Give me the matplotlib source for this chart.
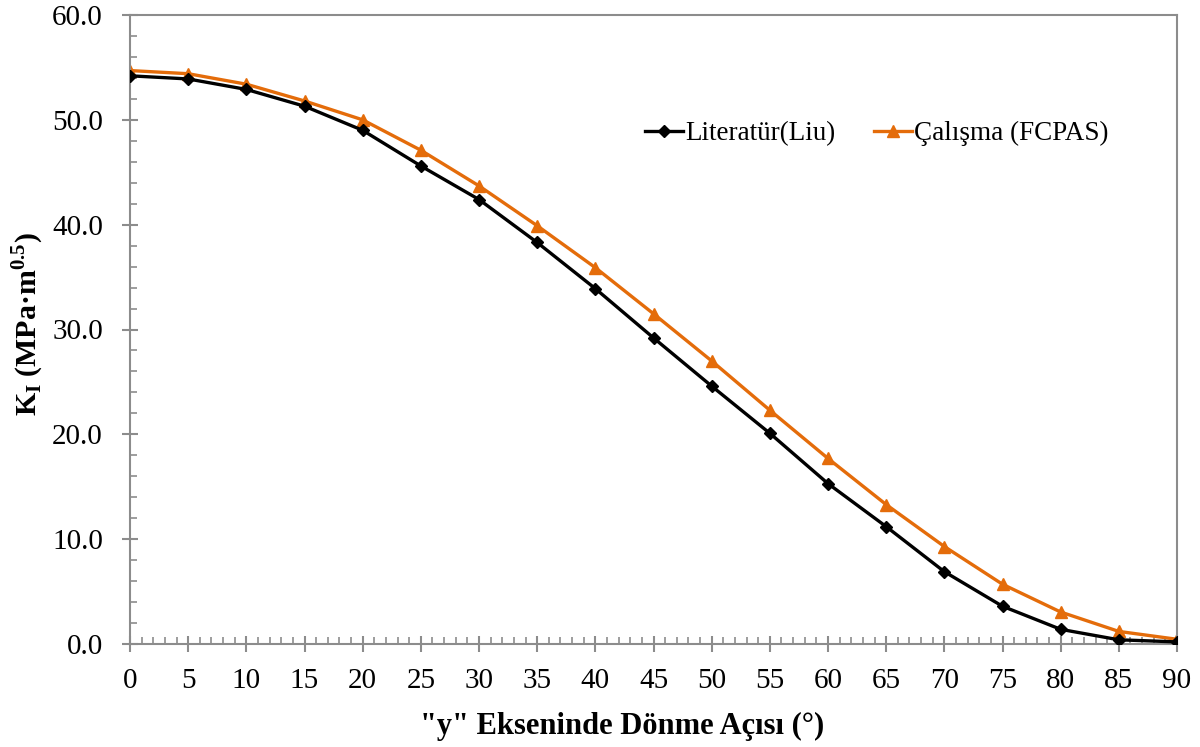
import matplotlib.pyplot as plt
from matplotlib.ticker import MultipleLocator, FormatStrFormatter

aci = [0, 5, 10, 15, 20, 25, 30, 35, 40, 45, 50, 55, 60, 65, 70, 75, 80, 85, 90]
liu = [54.2, 53.9, 52.9, 51.3, 49.0, 45.6, 42.4, 38.3, 33.9, 29.2, 24.6, 20.1,
       15.3, 11.2, 6.9, 3.6, 1.4, 0.4, 0.2]
fcpas = [54.7, 54.4, 53.4, 51.8, 50.0, 47.1, 43.7, 39.9, 35.9, 31.5, 27.0, 22.3,
         17.7, 13.3, 9.3, 5.7, 3.05, 1.2, 0.45]

plt.rcParams['font.family'] = ['Liberation Serif', 'DejaVu Serif']
plt.rcParams['mathtext.fontset'] = 'custom'
plt.rcParams['mathtext.rm'] = 'Liberation Serif'
plt.rcParams['mathtext.bf'] = 'Liberation Serif:bold'

fig = plt.figure(figsize=(12, 7.47), dpi=100)
ax = fig.add_axes([130/1200, 1 - 644/747, (1177-130)/1200, (644-15)/747])

ax.plot(aci, liu, color='black', lw=2.4, marker='D', ms=6, label='Literatür(Liu)', zorder=3)
ax.plot(aci, fcpas, color='#e46c0a', lw=2.4, marker='^', ms=8, label='Çalışma (FCPAS)', zorder=2)

ax.set_xlim(0, 90)
ax.set_ylim(0, 60)
ax.xaxis.set_major_locator(MultipleLocator(5))
ax.xaxis.set_minor_locator(MultipleLocator(1))
ax.yaxis.set_major_locator(MultipleLocator(10))
ax.yaxis.set_minor_locator(MultipleLocator(2))
ax.yaxis.set_major_formatter(FormatStrFormatter('%.1f'))

gray = '#8c8c8c'
for s in ax.spines.values():
    s.set_color(gray)
    s.set_linewidth(1.5)
ax.tick_params(which='major', direction='inout', length=11, width=1.5, color=gray,
               labelsize=21, pad=14)
ax.tick_params(which='minor', direction='in', length=5, width=1.2, color=gray)
ax.tick_params(axis='x', which='major', pad=12)

ax.set_xlabel('"y" Ekseninde Dönme Açısı (°)', fontsize=22, fontweight='bold')
ax.xaxis.set_label_coords((622 - 130) / 1047, (644 - 712) / 629)
ax.set_ylabel(r'$\mathbf{K_I}$ (MPa·m$^{\mathbf{0.5}}$)', fontsize=21.5, fontweight='bold')
ax.yaxis.set_label_coords((46 - 130) / 1047, (644 - 324) / 629)

ax.legend(loc='center', bbox_to_anchor=(0.7135, 0.811), ncol=2, frameon=False,
          fontsize=19.5, handlelength=1.4, columnspacing=1.4, handletextpad=0.1)

fig.savefig('out.png', dpi=100)
